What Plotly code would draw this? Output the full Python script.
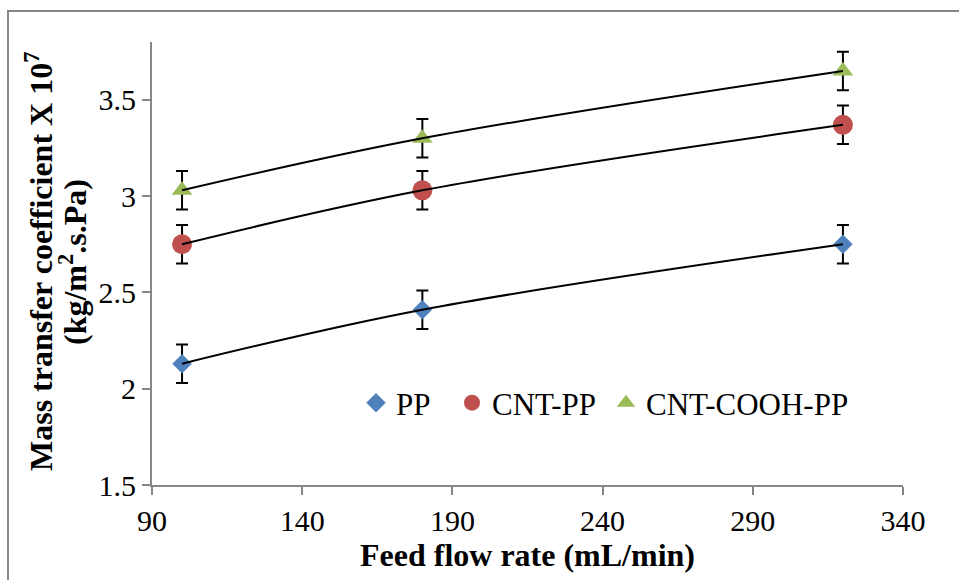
import plotly.graph_objects as go

flow = [100, 180, 320]
pp = [2.13, 2.41, 2.75]
cnt_pp = [2.75, 3.03, 3.37]
cnt_cooh_pp = [3.03, 3.30, 3.65]
err = [0.1, 0.1, 0.1]

series = [
    ("PP", pp, "#4F81BD", "diamond", 15, "legend"),
    ("CNT-PP", cnt_pp, "#C0504D", "circle", 20, "legend2"),
    ("CNT-COOH-PP", cnt_cooh_pp, "#9BBB59", "triangle-up", 18, "legend3"),
]

FONT = "Liberation Serif, Times New Roman, serif"
fig = go.Figure()
for name, vals, col, sym, sz, lg in series:
    fig.add_trace(go.Scatter(
        x=flow, y=vals, mode="markers", name=name, legend=lg,
        marker=dict(color=col, symbol=sym, size=sz, line=dict(width=0)),
        error_y=dict(type="data", array=err, visible=True, color="black", thickness=2, width=6),
    ))
for name, vals, col, sym, sz, lg in series:
    fig.add_trace(go.Scatter(
        x=flow, y=vals, mode="lines", showlegend=False, hoverinfo="skip",
        line=dict(color="black", width=2, shape="spline", smoothing=1),
    ))

L, R, T, B = 152, 903, 42, 485
W, H = 959, 580
pw, ph = R - L, B - T

def px(x):
    return (x - L) / pw

def py(y):
    return (B - y) / ph

def leg(x0):
    return dict(orientation="h", x=px(x0), y=py(403), xanchor="left", yanchor="middle",
                bgcolor="rgba(0,0,0,0)", font=dict(size=31, family=FONT),
                itemsizing="trace")

fig.update_layout(
    width=W, height=H,
    margin=dict(l=L, r=W - R, t=T, b=H - B, pad=0),
    paper_bgcolor="white", plot_bgcolor="white",
    font=dict(family=FONT, color="black", size=30),
    showlegend=True,
    legend=leg(356), legend2=leg(452), legend3=leg(606),
    xaxis=dict(range=[90, 340], tick0=90, dtick=50, showgrid=False, zeroline=False,
               showline=True, linecolor="#868686", linewidth=2,
               ticks="outside", ticklen=8, tickcolor="#868686", tickwidth=2,
               tickfont=dict(size=30, family=FONT),
               title=dict(text="<b>Feed flow rate (mL/min)</b>", font=dict(size=32, family=FONT), standoff=2)),
    yaxis=dict(range=[1.5, 3.8], tick0=1.5, dtick=0.5, showgrid=False, zeroline=False,
               showline=True, linecolor="#868686", linewidth=2,
               ticks="outside", ticklen=8, tickcolor="#868686", tickwidth=2,
               tickfont=dict(size=30, family=FONT), tickformat="~g"),
    shapes=[dict(type="rect", xref="paper", yref="paper",
                 x0=px(8), x1=px(1000), y0=py(640), y1=py(11),
                 line=dict(color="#868686", width=2), fillcolor="rgba(0,0,0,0)", layer="below")],
    annotations=[
        dict(text="<b>Mass transfer coefficient X 10<sup>7</sup></b>",
             xref="paper", yref="paper", x=px(39), y=py(262), xanchor="center", yanchor="middle",
             textangle=-90, showarrow=False, font=dict(size=32, family=FONT)),
        dict(text="<b>(kg/m<sup>2</sup>.s.Pa)</b>",
             xref="paper", yref="paper", x=px(73), y=py(262), xanchor="center", yanchor="middle",
             textangle=-90, showarrow=False, font=dict(size=32, family=FONT)),
    ],
)

fig.write_html("out.html")
